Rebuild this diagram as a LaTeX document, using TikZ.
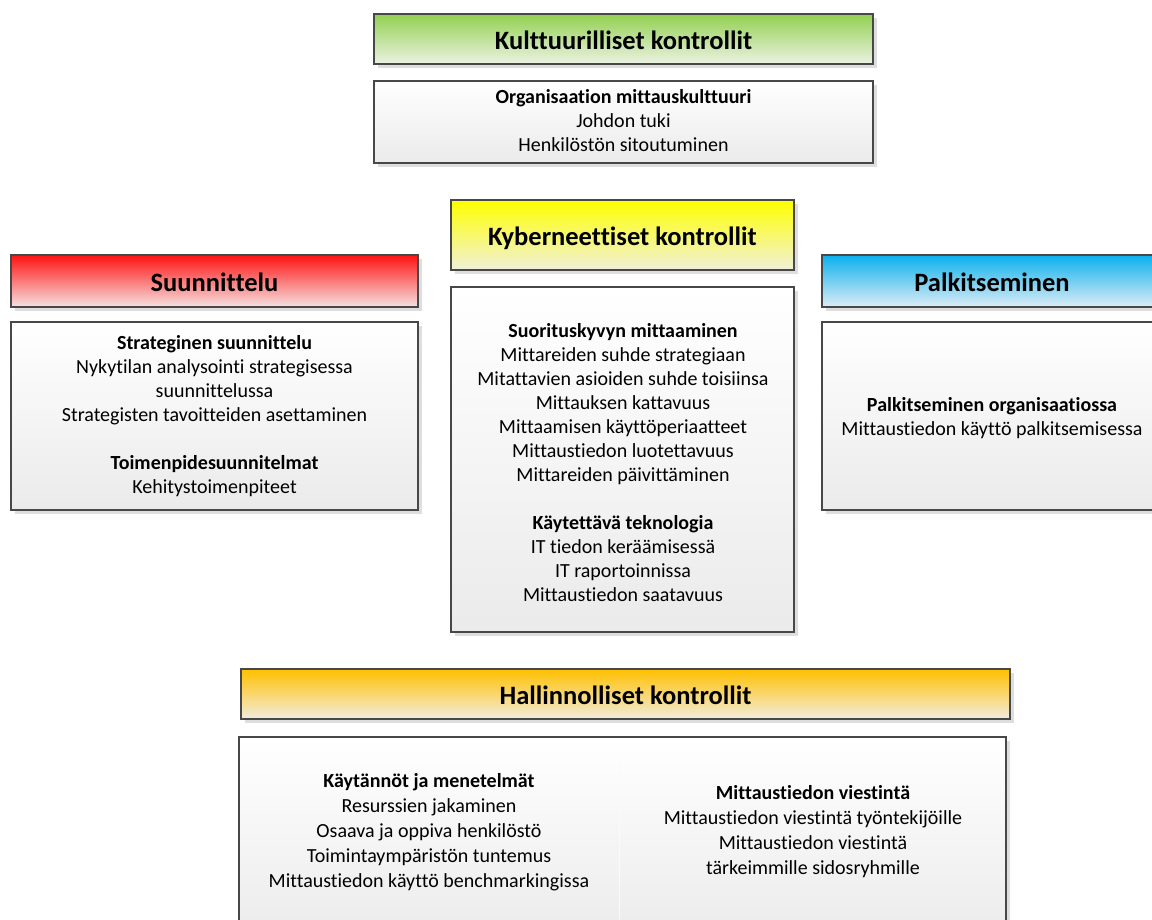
\documentclass[tikz,border=0pt]{standalone}
\usepackage{fontspec}
\setmainfont{Carlito}[Ligatures=NoCommon]
\usetikzlibrary{shadows}

% header gradients: saturated top fading to a pale bottom
\definecolor{grnTop}{RGB}{146,208,80}
\definecolor{grnBot}{RGB}{236,242,228}
\definecolor{redTop}{RGB}{255,18,18}
\definecolor{redBot}{RGB}{246,226,226}
\definecolor{yelTop}{RGB}{255,255,0}
\definecolor{yelBot}{RGB}{240,240,218}
\definecolor{bluTop}{RGB}{10,176,236}
\definecolor{bluBot}{RGB}{222,237,246}
\definecolor{orgTop}{RGB}{255,192,0}
\definecolor{orgBot}{RGB}{242,237,222}
\definecolor{frame}{RGB}{72,72,72}

\tikzset{
  box/.style={draw=frame, line width=1.4pt, inner sep=0pt,
    drop shadow={shadow xshift=4pt, shadow yshift=-4pt, fill=black!13, opacity=1}},
  head/.style={box, text height=24pt, text depth=3pt,
    font=\fontsize{26.5}{32}\selectfont\bfseries},
  headc/.style={top color=#1Top, middle color=#1Top!72!#1Bot, bottom color=#1Bot},
  body/.style={box, top color=white, bottom color=black!8},
  txt/.style={align=center, inner sep=0pt, font=\fontsize{20}{24}\selectfont},
  txtwide/.style={align=center, inner sep=0pt, font=\fontsize{20}{25}\selectfont},
}

\begin{document}
\begin{tikzpicture}[x=1pt,y=-1pt]
\useasboundingbox (0,0) rectangle (1152,919);

% cultural controls
\node[head, headc=grn, minimum width=499pt, minimum height=50pt] (kult) at (623.5,39) {Kulttuurilliset kontrollit};
\node[body, minimum width=499pt, minimum height=82pt] (kultbox) at (623.5,122) {};
\node[txt] (kulttxt) at (623.5,123) {\strut\textbf{Organisaation mittauskulttuuri}\\Johdon tuki\\\strut Henkilöstön sitoutuminen};

% cybernetic controls
\node[head, headc=yel, minimum width=343pt, minimum height=70pt] (kyb) at (622.5,235) {Kyberneettiset kontrollit};
\node[body, minimum width=343pt, minimum height=345pt] (kybbox) at (622.5,459.5) {};
\node[txt] (kybtxt) at (623,465) {\strut\textbf{Suorituskyvyn mittaaminen}\\
  Mittareiden suhde strategiaan\\
  Mitattavien asioiden suhde toisiinsa\\
  Mittauksen kattavuus\\
  Mittaamisen käyttöperiaatteet\\
  Mittaustiedon luotettavuus\\
  Mittareiden päivittäminen\\[24pt]
  \textbf{Käytettävä teknologia}\\
  IT tiedon keräämisessä\\
  IT raportoinnissa\\
  \strut Mittaustiedon saatavuus};

% planning
\node[head, headc=red, minimum width=407pt, minimum height=52pt] (suun) at (214.5,281) {Suunnittelu};
\node[body, minimum width=407pt, minimum height=188pt] (suunbox) at (214.5,416) {};
\node[txt] (suuntxt) at (214.5,417) {\strut\textbf{Strateginen suunnittelu}\\
  Nykytilan analysointi strategisessa\\
  suunnittelussa\\
  Strategisten tavoitteiden asettaminen\\[24pt]
  \textbf{Toimenpidesuunnitelmat}\\
  \strut Kehitystoimenpiteet};

% rewards
\node[head, headc=blu, minimum width=340pt, minimum height=52pt] (palk) at (992,281) {Palkitseminen};
\node[body, minimum width=340pt, minimum height=188pt] (palkbox) at (992,416) {};
\node[txt] (palktxt) at (992,418.5) {\strut\textbf{Palkitseminen organisaatiossa}\\
  \strut Mittaustiedon käyttö palkitsemisessa};

% administrative controls
\node[head, headc=org, minimum width=769pt, minimum height=50pt] (hall) at (625.5,694) {Hallinnolliset kontrollit};
\node[body, minimum width=767pt, minimum height=208pt] (hallbox) at (622.5,841) {};
\coordinate (divtop) at (619,762);
\coordinate (divbot) at (619,919);
\draw[white!60!black!5, line width=1pt] (divtop) -- (divbot);
\node[txtwide] (halltxtL) at (429,832) {\strut\textbf{Käytännöt ja menetelmät}\\
  Resurssien jakaminen\\
  Osaava ja oppiva henkilöstö\\
  Toimintaympäristön tuntemus\\
  \strut Mittaustiedon käyttö benchmarkingissa};
\node[txtwide] (halltxtR) at (813,831.5) {\strut\textbf{Mittaustiedon viestintä}\\
  Mittaustiedon viestintä työntekijöille\\
  Mittaustiedon viestintä\\
  \strut tärkeimmille sidosryhmille};
\end{tikzpicture}
\end{document}
